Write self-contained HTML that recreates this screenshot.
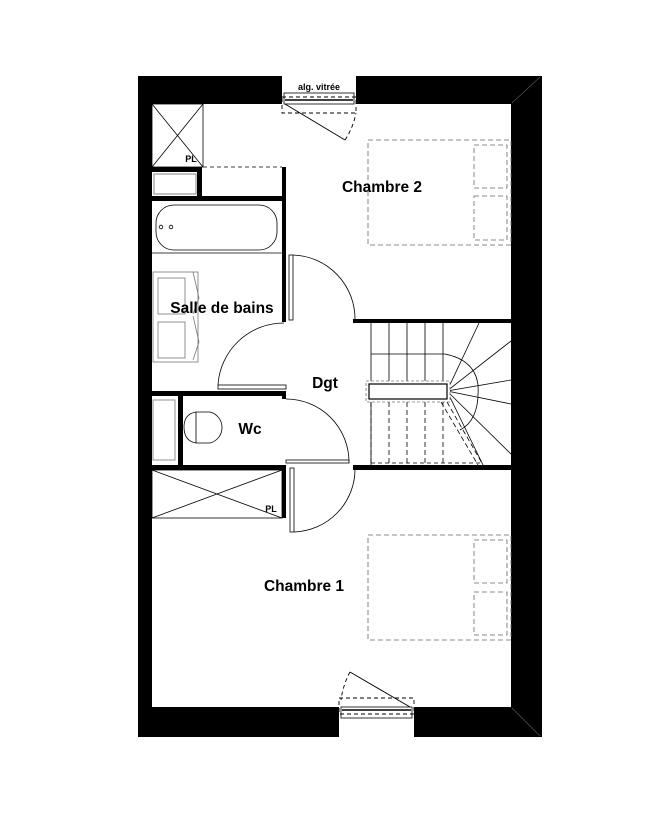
<!DOCTYPE html>
<html><head><meta charset="utf-8"><style>body{margin:0;background:#fff}svg{display:block}text{font-family:"Liberation Sans",sans-serif;font-weight:bold}</style></head><body>
<svg width="656" height="828" viewBox="0 0 656 828" xmlns="http://www.w3.org/2000/svg">
<path d="M138 76H542V737H138Z M152 104V707H511V104Z" fill="#000" fill-rule="evenodd"/>
<path d="M512 103L540 77M512 708L540 736" stroke="#555" stroke-width="0.7"/>
<rect x="282" y="76" width="74" height="28" fill="#fff"/>
<text x="319" y="90" font-size="9" text-anchor="middle">alg. vitrée</text>
<rect x="284" y="93" width="70" height="11" fill="none" stroke="#000" stroke-width="0.8"/>
<line x1="285" y1="100" x2="353" y2="100" stroke="#000" stroke-width="1.5"/>
<rect x="282" y="97" width="74" height="16" fill="none" stroke="#000" stroke-dasharray="4,3" stroke-width="0.9"/>
<path d="M285 104L345 140" stroke="#000" stroke-width="0.9"/>
<path d="M345 140Q353 128 356 113" fill="none" stroke="#000" stroke-dasharray="4,3" stroke-width="0.9"/>
<rect x="339" y="707" width="75" height="30" fill="#fff"/>
<rect x="341" y="707" width="71" height="11" fill="none" stroke="#000" stroke-width="0.8"/>
<line x1="342" y1="710" x2="411" y2="710" stroke="#000" stroke-width="1.5"/>
<rect x="339" y="698" width="75" height="16" fill="none" stroke="#000" stroke-dasharray="4,3" stroke-width="0.9"/>
<path d="M410 707L350 672" stroke="#000" stroke-width="0.9"/>
<path d="M350 672Q343 685 341 700" fill="none" stroke="#000" stroke-dasharray="4,3" stroke-width="0.9"/>
<g fill="#000">
<rect x="282" y="167" width="4" height="155"/>
<rect x="152" y="196" width="134" height="5"/>
<rect x="197" y="167" width="5" height="30"/>
<rect x="152" y="167" width="50" height="5"/>
<rect x="152" y="391" width="134" height="5"/>
<rect x="178" y="391" width="5" height="79"/>
<rect x="152" y="465" width="134" height="5"/>
<rect x="282" y="465" width="4" height="53"/>
<rect x="282" y="391" width="4" height="8"/>
<rect x="353" y="319" width="158" height="4"/>
<rect x="353" y="465" width="158" height="5"/>
</g>
<g fill="none" stroke="#000" stroke-width="0.8">
<rect x="152" y="104" width="51" height="63"/>
<path d="M152 104L203 167M203 104L152 167"/>
<path d="M203 167H282" stroke-dasharray="4,3"/>
<rect x="154" y="174" width="42" height="20" stroke="#666"/>
<rect x="156" y="205" width="121" height="45" rx="18"/>
<circle cx="171" cy="227" r="1.8"/><circle cx="161" cy="227" r="1.8"/>
<line x1="152" y1="253" x2="282" y2="253"/>
<rect x="153" y="272" width="45" height="90" stroke="#777"/>
<rect x="158" y="278" width="27" height="36" stroke="#777"/>
<rect x="158" y="322" width="27" height="36" stroke="#777"/>
<path d="M193 272L199 298L193 314M193 316L199 342L193 360" stroke="#777"/>
<rect x="289" y="255" width="4" height="65"/>
<path d="M293 255A64 64 0 0 1 355 320"/>
<rect x="218" y="385" width="68" height="4"/>
<path d="M218 385A66 66 0 0 1 284 323"/>
<rect x="286" y="460" width="63" height="3"/>
<path d="M286 399A63 63 0 0 1 349 462"/>
<rect x="290" y="468" width="4" height="64"/>
<path d="M294 532A63 63 0 0 0 355 468"/>
<rect x="153" y="400" width="22" height="60" stroke="#777"/>
<path d="M196 412H210A16 16 0 0 1 210 443H196" />
<path d="M196 412Q184 414 184 427Q184 441 196 443Z"/>
<rect x="152" y="470" width="130" height="48"/>
<path d="M152 470L282 518M282 470L152 518"/>
<g stroke="#666" stroke-dasharray="5,3">
<rect x="368" y="140" width="143" height="105"/>
<rect x="474" y="145" width="33" height="43"/>
<rect x="474" y="196" width="33" height="44"/>
<rect x="368" y="535" width="143" height="105"/>
<rect x="474" y="540" width="33" height="43"/>
<rect x="474" y="592" width="33" height="43"/>
</g>
<path d="M371 323V465M389 323V383M407 323V383M425 323V383M443 323V383M371 354H445Q475 360 478 385Q480 420 460 430"/>
<path d="M447 391L479 323M447 391L511 341M447 391L511 380M447 391L511 404M447 391L511 454M447 391L483 465"/>
<path d="M371 402V465M389 402V465M407 402V465M425 402V465M443 402V465M441 402L478 465M447 402L483 465" stroke-dasharray="5,3"/>
<path d="M371 463H480" stroke-dasharray="4,3"/>
<rect x="366" y="381" width="84" height="21" fill="#fff" stroke="#777" stroke-dasharray="3,2"/>
<rect x="369" y="384" width="78" height="15" fill="#fff" stroke-width="1.2"/>
</g>
<g>
<text x="382" y="192" text-anchor="middle" font-size="15.5">Chambre 2</text>
<text x="304" y="591" text-anchor="middle" font-size="15.5">Chambre 1</text>
<text x="325" y="388" text-anchor="middle" font-size="15.5">Dgt</text>
<text x="250" y="434" text-anchor="middle" font-size="15.5">Wc</text>
<text x="222" y="313" text-anchor="middle" font-size="15.5">Salle de bains</text>
<text x="191" y="162" text-anchor="middle" font-size="9" font-weight="normal">PL</text>
<text x="271" y="512" text-anchor="middle" font-size="9" font-weight="normal">PL</text>
</g>
</svg>
</body></html>
